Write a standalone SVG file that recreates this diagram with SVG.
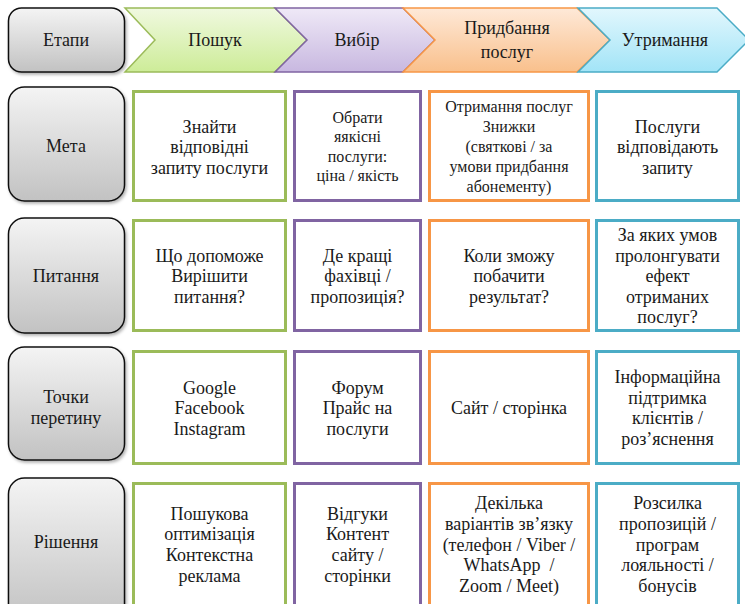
<svg xmlns="http://www.w3.org/2000/svg" id="root" width="745" height="604" viewBox="0 0 745 604">
<defs>
<linearGradient id="gGray" x1="0" y1="0" x2="0" y2="1"><stop offset="0" stop-color="#f4f4f4"/><stop offset="1" stop-color="#c2c2c2"/></linearGradient>
<linearGradient id="gGreen" x1="0" y1="0" x2="0" y2="1"><stop offset="0" stop-color="#f0f9e0"/><stop offset="1" stop-color="#cdec98"/></linearGradient>
<linearGradient id="gPurple" x1="0" y1="0" x2="0" y2="1"><stop offset="0" stop-color="#efe9f7"/><stop offset="1" stop-color="#c8b8e0"/></linearGradient>
<linearGradient id="gOrange" x1="0" y1="0" x2="0" y2="1"><stop offset="0" stop-color="#fee9d8"/><stop offset="1" stop-color="#f9c08c"/></linearGradient>
<linearGradient id="gBlue" x1="0" y1="0" x2="0" y2="1"><stop offset="0" stop-color="#e2f7fd"/><stop offset="1" stop-color="#a2e4f7"/></linearGradient>
<filter id="sh" x="-10%" y="-10%" width="125%" height="125%"><feDropShadow dx="1.5" dy="2" stdDeviation="1.5" flood-color="#000" flood-opacity="0.3"/></filter>
</defs>
<style>
#root g text{font-family:'Liberation Serif','Times New Roman',serif !important}
.gray{fill:url(#gGray);stroke:#111;stroke-width:1.5;filter:url(#sh)}
.box{fill:#fff;stroke-width:3}
.gr{stroke:#9bbb59}.pu{stroke:#8064a2}.or{stroke:#f79646}.bl{stroke:#4bacc6}
</style>

<g id="header" fill="#1a1a1a" text-anchor="middle">
<g id="h-etapy"><rect class="gray" x="8.5" y="8" width="116" height="64" rx="13"/><text style="font:18px 'Liberation Serif',serif" x="66" y="46">Етапи</text></g>
<g id="h-poshuk"><path d="M125,8 L275,8 L307,40 L275,72 L125,72 L155,40 Z" fill="url(#gGreen)" stroke="#9bbb59" stroke-width="1.5"/><text style="font:18px 'Liberation Serif',serif" x="215" y="46">Пошук</text></g>
<g id="h-vybir"><path d="M275,8 L403,8 L435,40 L403,72 L275,72 L307,40 Z" fill="url(#gPurple)" stroke="#8064a2" stroke-width="1.5"/><text style="font:18px 'Liberation Serif',serif" x="357" y="46">Вибір</text></g>
<g id="h-prydbannia"><path d="M403,8 L577,8 L610,40 L577,72 L403,72 L435,40 Z" fill="url(#gOrange)" stroke="#f79646" stroke-width="1.5"/><text style="font:18px 'Liberation Serif',serif" x="507" y="34">Придбання</text><text style="font:18px 'Liberation Serif',serif" x="507" y="58">послуг</text></g>
<g id="h-utrymannia"><path d="M578,8 L717,8 L749,40 L717,72 L578,72 L610,40 Z" fill="url(#gBlue)" stroke="#4bacc6" stroke-width="1.5"/><text style="font:18px 'Liberation Serif',serif" x="665" y="46">Утримання</text></g>
</g>

<g id="connectors"></g>

<g id="row-meta" fill="#1a1a1a" text-anchor="middle">
<g id="meta"><rect class="gray" x="8.5" y="87" width="116" height="114" rx="16"/><text style="font:18px 'Liberation Serif',serif" x="66" y="152">Мета</text></g>
<g id="meta-1"><rect class="box gr" x="133.5" y="91.5" width="152" height="109"/><text style="font:18px 'Liberation Serif',serif" x="209.5" y="133">Знайти</text><text style="font:18px 'Liberation Serif',serif" x="209.5" y="153">відповідні</text><text style="font:18px 'Liberation Serif',serif" x="209.5" y="174">запиту послуги</text></g>
<g id="meta-2"><rect class="box pu" x="294.5" y="91.5" width="126" height="109"/><text style="font:16px 'Liberation Serif',serif" x="357.5" y="123">Обрати</text><text style="font:16px 'Liberation Serif',serif" x="357.5" y="142">яякісні</text><text style="font:16px 'Liberation Serif',serif" x="357.5" y="162">послуги:</text><text style="font:16px 'Liberation Serif',serif" x="357.5" y="181">ціна / якість</text></g>
<g id="meta-3"><rect class="box or" x="429.5" y="91.5" width="159" height="109"/><text style="font:16px 'Liberation Serif',serif" x="509" y="112">Отримання послуг</text><text style="font:16px 'Liberation Serif',serif" x="509" y="132">Знижки</text><text style="font:16px 'Liberation Serif',serif" x="509" y="152">(святкові / за</text><text style="font:16px 'Liberation Serif',serif" x="509" y="172">умови придбання</text><text style="font:16px 'Liberation Serif',serif" x="509" y="192">абонементу)</text></g>
<g id="meta-4"><rect class="box bl" x="596.5" y="91.5" width="142" height="109"/><text style="font:18px 'Liberation Serif',serif" x="667.5" y="133">Послуги</text><text style="font:18px 'Liberation Serif',serif" x="667.5" y="153">відповідають</text><text style="font:18px 'Liberation Serif',serif" x="667.5" y="174">запиту</text></g>
</g>

<g id="row-pytannia" fill="#1a1a1a" text-anchor="middle">
<g id="pytannia"><rect class="gray" x="8.5" y="218" width="116" height="115" rx="16"/><text style="font:18px 'Liberation Serif',serif" x="66" y="282">Питання</text></g>
<g id="pyt-1"><rect class="box gr" x="133.5" y="220.5" width="152" height="110"/><text style="font:18px 'Liberation Serif',serif" x="209.5" y="262">Що допоможе</text><text style="font:18px 'Liberation Serif',serif" x="209.5" y="282">Вирішити</text><text style="font:18px 'Liberation Serif',serif" x="209.5" y="303">питання?</text></g>
<g id="pyt-2"><rect class="box pu" x="294.5" y="220.5" width="126" height="110"/><text style="font:18px 'Liberation Serif',serif" x="357.5" y="262">Де кращі</text><text style="font:18px 'Liberation Serif',serif" x="357.5" y="282">фахівці /</text><text style="font:18px 'Liberation Serif',serif" x="357.5" y="303">пропозиція?</text></g>
<g id="pyt-3"><rect class="box or" x="429.5" y="220.5" width="159" height="110"/><text style="font:18px 'Liberation Serif',serif" x="509" y="262">Коли зможу</text><text style="font:18px 'Liberation Serif',serif" x="509" y="282">побачити</text><text style="font:18px 'Liberation Serif',serif" x="509" y="303">результат?</text></g>
<g id="pyt-4"><rect class="box bl" x="596.5" y="220.5" width="142" height="110"/><text style="font:18px 'Liberation Serif',serif" x="667.5" y="241">За яких умов</text><text style="font:18px 'Liberation Serif',serif" x="667.5" y="262">пролонгувати</text><text style="font:18px 'Liberation Serif',serif" x="667.5" y="282">ефект</text><text style="font:18px 'Liberation Serif',serif" x="667.5" y="303">отриманих</text><text style="font:18px 'Liberation Serif',serif" x="667.5" y="323">послуг?</text></g>
</g>

<g id="row-tochky" fill="#1a1a1a" text-anchor="middle">
<g id="tochky"><rect class="gray" x="8.5" y="347" width="116" height="113" rx="16"/><text style="font:18px 'Liberation Serif',serif" x="66" y="403">Точки</text><text style="font:18px 'Liberation Serif',serif" x="66" y="424">перетину</text></g>
<g id="toch-1"><rect class="box gr" x="133.5" y="351.5" width="152" height="112"/><text style="font:18px 'Liberation Serif',serif" x="209.5" y="394">Google</text><text style="font:18px 'Liberation Serif',serif" x="209.5" y="414">Facebook</text><text style="font:18px 'Liberation Serif',serif" x="209.5" y="435">Instagram</text></g>
<g id="toch-2"><rect class="box pu" x="294.5" y="351.5" width="126" height="112"/><text style="font:18px 'Liberation Serif',serif" x="357.5" y="394">Форум</text><text style="font:18px 'Liberation Serif',serif" x="357.5" y="414">Прайс на</text><text style="font:18px 'Liberation Serif',serif" x="357.5" y="435">послуги</text></g>
<g id="toch-3"><rect class="box or" x="429.5" y="351.5" width="159" height="112"/><text style="font:18px 'Liberation Serif',serif" x="509" y="414">Сайт / сторінка</text></g>
<g id="toch-4"><rect class="box bl" x="596.5" y="351.5" width="142" height="112"/><text style="font:18px 'Liberation Serif',serif" x="667.5" y="383">Інформаційна</text><text style="font:18px 'Liberation Serif',serif" x="667.5" y="404">підтримка</text><text style="font:18px 'Liberation Serif',serif" x="667.5" y="424">клієнтів /</text><text style="font:18px 'Liberation Serif',serif" x="667.5" y="445">роз’яснення</text></g>
</g>

<g id="row-rishennia" fill="#1a1a1a" text-anchor="middle">
<g id="rishennia"><rect class="gray" x="8.5" y="478" width="116" height="145" rx="16"/><text style="font:18px 'Liberation Serif',serif" x="66" y="548">Рішення</text></g>
<g id="rish-1"><rect class="box gr" x="133.5" y="483.5" width="152" height="140"/><text style="font:18px 'Liberation Serif',serif" x="209.5" y="520">Пошукова</text><text style="font:18px 'Liberation Serif',serif" x="209.5" y="540">оптимізація</text><text style="font:18px 'Liberation Serif',serif" x="209.5" y="561">Контекстна</text><text style="font:18px 'Liberation Serif',serif" x="209.5" y="582">реклама</text></g>
<g id="rish-2"><rect class="box pu" x="294.5" y="483.5" width="126" height="140"/><text style="font:18px 'Liberation Serif',serif" x="357.5" y="520">Відгуки</text><text style="font:18px 'Liberation Serif',serif" x="357.5" y="540">Контент</text><text style="font:18px 'Liberation Serif',serif" x="357.5" y="561">сайту /</text><text style="font:18px 'Liberation Serif',serif" x="357.5" y="582">сторінки</text></g>
<g id="rish-3"><rect class="box or" x="429.5" y="483.5" width="159" height="140"/><text style="font:18px 'Liberation Serif',serif" x="509" y="509">Декілька</text><text style="font:18px 'Liberation Serif',serif" x="509" y="530">варіантів зв’язку</text><text style="font:18px 'Liberation Serif',serif" x="509" y="551">(телефон / Viber /</text><text style="font:18px 'Liberation Serif',serif" x="509" y="571" xml:space="preserve">WhatsApp  /</text><text style="font:18px 'Liberation Serif',serif" x="509" y="592">Zoom / Meet)</text></g>
<g id="rish-4"><rect class="box bl" x="596.5" y="483.5" width="142" height="140"/><text style="font:18px 'Liberation Serif',serif" x="667.5" y="509">Розсилка</text><text style="font:18px 'Liberation Serif',serif" x="667.5" y="530">пропозицій /</text><text style="font:18px 'Liberation Serif',serif" x="667.5" y="551">програм</text><text style="font:18px 'Liberation Serif',serif" x="667.5" y="571">лояльності /</text><text style="font:18px 'Liberation Serif',serif" x="667.5" y="592">бонусів</text></g>
</g>
</svg>
